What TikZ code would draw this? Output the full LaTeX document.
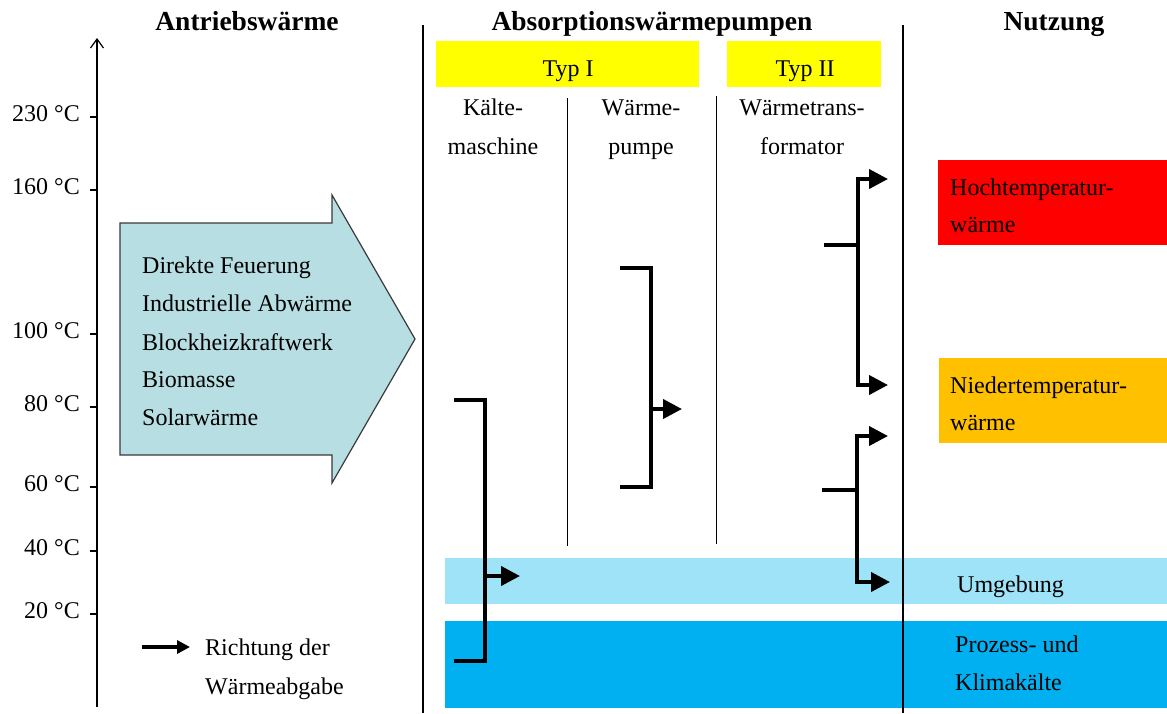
\documentclass[tikz,border=0pt]{standalone}
\usepackage{fontspec}
\setmainfont{Liberation Serif}
\usetikzlibrary{arrows.meta}
\definecolor{arrowfill}{HTML}{B7DEE2}
\definecolor{arrowedge}{HTML}{3A3A3A}
\definecolor{typyellow}{HTML}{FFFF00}
\definecolor{hotred}{HTML}{FF0000}
\definecolor{warmorange}{HTML}{FFC000}
\definecolor{lightband}{HTML}{9EE3F8}
\definecolor{darkband}{HTML}{00B0F0}
\tikzset{
  txt/.style={inner sep=0pt, font=\fontsize{24}{29}\selectfont},
  head/.style={inner sep=0pt, font=\fontsize{27.5}{32}\selectfont\bfseries, anchor=base},
  thinline/.style={line width=1.2pt},
  bracket/.style={line width=4pt, line join=miter, line cap=butt},
  bigtip/.style={-{Triangle[length=19pt,width=19pt]}},
  twotip/.style={{Triangle[length=19pt,width=19pt]}-{Triangle[length=19pt,width=19pt]}},
  boxfill/.style={draw=none, inner sep=0pt, anchor=north west},
}
\begin{document}
\begin{tikzpicture}[x=1pt,y=-1pt]
\useasboundingbox[fill=white] (0,0) rectangle (1167,713);

% bands and coloured boxes
\fill[lightband] (445,558) rectangle (1167,604);
\fill[darkband] (445,621) rectangle (1167,708);
\node[boxfill, fill=typyellow, minimum width=263pt, minimum height=46pt] (typ1) at (436,41) {};
\node[boxfill, fill=typyellow, minimum width=154pt, minimum height=46pt] (typ2) at (727,41) {};
\node[boxfill, fill=hotred, minimum width=229pt, minimum height=85pt] (hot) at (938,160) {};
\node[boxfill, fill=warmorange, minimum width=228pt, minimum height=85pt] (low) at (939,358) {};

% headings
\node[head] (hA) at (247,30) {Antriebswärme};
\node[head] (hB) at (652,30) {Absorptionswärmepumpen};
\node[head] (hC) at (1054,30) {Nutzung};

% separators
\draw[thinline] (423,25) -- (423,713);
\draw[thinline] (903,25) -- (903,713);
\draw[line width=1pt] (567,98) -- (567,546);
\draw[line width=1pt] (716,96) -- (716,544);

% axis
\coordinate (axbot) at (97,707);
\coordinate (axtop) at (97,38);
\draw[thinline, -{Straight Barb[length=9pt,width=13pt]}] (axbot) -- (axtop);
\foreach \t/\y in {230/117,160/190,100/334,80/407,60/487,40/551,20/614}{
  \draw[thinline] (90,\y) -- (97,\y);
  \node[txt, anchor=base east] at (80,\y+4) {\t\ °C};
}

% big arrow
\draw[fill=arrowfill, draw=arrowedge, line width=1.2pt, line join=miter]
  (120,223) -- (332,223) -- (332,195) -- (415,339) -- (332,483) -- (332,455) -- (120,455) -- cycle;
\node[txt, anchor=base west] (s1) at (142,273) {Direkte Feuerung};
\node[txt, anchor=base west] (s2) at (142,311.5) {Industrielle Abwärme};
\node[txt, anchor=base west] (s3) at (142,350) {Blockheizkraftwerk};
\node[txt, anchor=base west] (s4) at (142,387) {Biomasse};
\node[txt, anchor=base west] (s5) at (142,425) {Solarwärme};

% type labels
\node[txt, anchor=base] at (568,76) {Typ I};
\node[txt, anchor=base] at (805,76) {Typ II};
\node[txt, anchor=base] (k1) at (493,115) {Kälte-};
\node[txt, anchor=base] (k2) at (493,154) {maschine};
\node[txt, anchor=base] (w1) at (641,115) {Wärme-};
\node[txt, anchor=base] (w2) at (641,154) {pumpe};
\node[txt, anchor=base] (t1) at (802,115) {Wärmetrans-};
\node[txt, anchor=base] (t2) at (802,154) {formator};

% usage labels
\node[txt, anchor=base west] (u1) at (950,195) {Hochtemperatur-};
\node[txt, anchor=base west] (u2) at (950,232) {wärme};
\node[txt, anchor=base west] (u3) at (950,393) {Niedertemperatur-};
\node[txt, anchor=base west] (u4) at (950,430) {wärme};
\node[txt, anchor=base west] (u5) at (957,592) {Umgebung};
\node[txt, anchor=base west] (u6) at (955,652) {Prozess- und};
\node[txt, anchor=base west] (u7) at (955,690) {Klimakälte};

% Kältemaschine bracket
\coordinate (kmA) at (454,400);
\coordinate (kmB) at (485,400);
\coordinate (kmC) at (485,661);
\coordinate (kmD) at (454,661);
\coordinate (kmM) at (485,576);
\coordinate (kmT) at (520,576);
\draw[bracket] (kmA) -- (kmB) -- (kmC) -- (kmD);
\draw[bracket, bigtip] (kmM) -- (kmT);

% Wärmepumpe bracket
\coordinate (wpA) at (620,268);
\coordinate (wpB) at (651,268);
\coordinate (wpC) at (651,487);
\coordinate (wpD) at (620,487);
\coordinate (wpM) at (651,409);
\coordinate (wpT) at (682,409);
\draw[bracket] (wpA) -- (wpB) -- (wpC) -- (wpD);
\draw[bracket, bigtip] (wpM) -- (wpT);

% Wärmetransformator upper
\coordinate (wtaIn) at (824,245);
\coordinate (wtaJ) at (858,245);
\coordinate (wtaHi) at (888,179);
\coordinate (wtaLo) at (888,385);
\draw[bracket] (wtaIn) -- (wtaJ);
\draw[bracket, twotip] (wtaHi) -| (wtaJ) |- (wtaLo);

% Wärmetransformator lower
\coordinate (wtbIn) at (822,490);
\coordinate (wtbJ) at (857,490);
\coordinate (wtbHi) at (888,436);
\coordinate (wtbLo) at (890,582);
\draw[bracket] (wtbIn) -- (wtbJ);
\draw[bracket, twotip] (wtbHi) -| (wtbJ) |- (wtbLo);

% legend
\coordinate (lgA) at (142,647);
\coordinate (lgB) at (190,647);
\draw[line width=3.5pt, -{Triangle[length=13pt,width=13pt]}] (lgA) -- (lgB);
\node[txt, anchor=base west] (lg1) at (205,655) {Richtung der};
\node[txt, anchor=base west] (lg2) at (205,694) {Wärmeabgabe};
\end{tikzpicture}
\end{document}
